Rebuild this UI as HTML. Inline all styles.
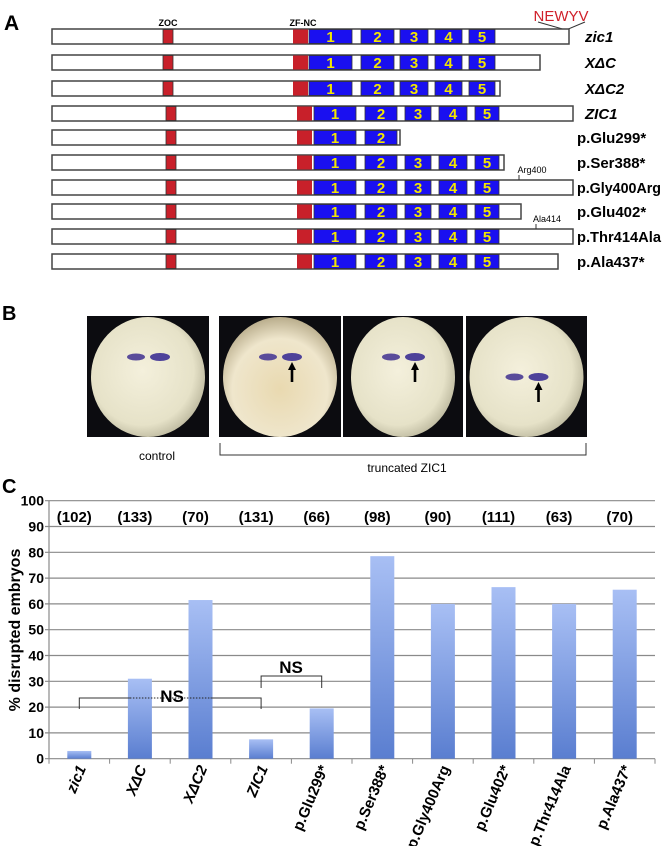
<!DOCTYPE html>
<html><head><meta charset="utf-8"><style>
html,body{margin:0;padding:0;background:#fff;}
svg{display:block;font-family:"Liberation Sans",Arial,sans-serif;}
</style></head><body>
<svg id="fig" width="662" height="846" viewBox="0 0 662 846" xmlns="http://www.w3.org/2000/svg">
<defs>
<linearGradient id="barg" x1="0" y1="0" x2="0" y2="1"><stop offset="0" stop-color="#a8bff4"/><stop offset="1" stop-color="#5a7ed0"/></linearGradient>
<radialGradient id="egg" cx="0.45" cy="0.45" r="0.6"><stop offset="0" stop-color="#f4f0dc"/><stop offset="0.75" stop-color="#e6e2c8"/><stop offset="1" stop-color="#b8b49a"/></radialGradient>
<radialGradient id="egg2" cx="0.5" cy="0.6" r="0.6"><stop offset="0" stop-color="#e9d9b0"/><stop offset="0.7" stop-color="#efe6cc"/><stop offset="1" stop-color="#b9ad8c"/></radialGradient>
</defs>
<g id="panelA">
<text x="4" y="30" font-size="21" font-weight="bold">A</text>
<text x="168" y="26" font-size="9" font-weight="bold" text-anchor="middle">ZOC</text>
<text x="303" y="26" font-size="9" font-weight="bold" text-anchor="middle">ZF-NC</text>
<text x="561" y="21" font-size="15" fill="#d0202a" text-anchor="middle">NEWYV</text>
<polyline points="538,22 566,30 585,22" fill="none" stroke="#333" stroke-width="1"/>
</g>
<g id="panelB">
<text x="2" y="320" font-size="20" font-weight="bold">B</text>
</g>
<g id="panelC">
<text x="2" y="493" font-size="20" font-weight="bold">C</text>
<text transform="translate(20,630) rotate(-90)" font-size="16" font-weight="bold" text-anchor="middle">% disrupted embryos</text>
</g>
</svg>
<script>
// ---- Panel C data ----
const categories = ["zic1","X\u0394C","X\u0394C2","ZIC1","p.Glu299*","p.Ser388*","p.Gly400Arg","p.Glu402*","p.Thr414Ala","p.Ala437*"];
const italicCats = [true,true,true,true,false,false,false,false,false,false];
const disrupted = [3,31,61.5,7.5,19.5,78.5,60,66.5,60,65.5];
const counts = ["(102)","(133)","(70)","(131)","(66)","(98)","(90)","(111)","(63)","(70)"];
const yTicks = [0,10,20,30,40,50,60,70,80,90,100];

// ---- Panel A data ----
const constructs = ["zic1","X\u0394C","X\u0394C2","ZIC1","p.Glu299*","p.Ser388*","p.Gly400Arg","p.Glu402*","p.Thr414Ala","p.Ala437*"];
const constructLengths = [569,540,500,573,400,504,573,521,573,558];
const constructDomains = [5,5,5,5,2,5,5,5,5,5];

const NS = "http://www.w3.org/2000/svg";
const svg = document.getElementById('fig');
function mk(tag, attrs, parent){const e=document.createElementNS(NS,tag);for(const k in attrs)e.setAttribute(k,attrs[k]);(parent||svg).appendChild(e);return e;}

// Panel A
const gA = document.getElementById('panelA');
const rowY = [29,55,81,106,130,155,180,204,229,254];
const frog = [[309,352],[361,394],[400,428],[435,462],[469,495]];
const hum = [[314,356],[365,397],[405,431],[439,467],[475,499]];
constructs.forEach((name,i)=>{
  const y=rowY[i], isFrog=i<3, dom=isFrog?frog:hum;
  const g=mk('g',{},gA);
  
  
  const r=mk('rect',{x:52,y:y,width:constructLengths[i]-52,height:15,fill:'#fff',stroke:'#444','stroke-width':1.5},g);
  
  
  const zx=isFrog?163:166;
  const z=mk('rect',{x:zx,y:y+0.5,width:10,height:14,fill:'#c8202a',stroke:'#333','stroke-width':0.8},g);
  
  
  const fx=isFrog?293:297;
  const f=mk('rect',{x:fx,y:y+0.5,width:15,height:14,fill:'#c8202a'},g);
  
  
  for(let d=0;d<constructDomains[i];d++){
    const b=mk('rect',{x:dom[d][0],y:y+0.5,width:dom[d][1]-dom[d][0],height:14,fill:'#1a10f0',stroke:'#333','stroke-width':0.8},g);
    
    
    const t=mk('text',{x:(dom[d][0]+dom[d][1])/2,y:y+13,'font-size':15,'font-weight':'bold',fill:'#f2e600','text-anchor':'middle'},g);
    t.textContent=String(d+1);
    
    
  }
  const attrs={x:i<4?585:577,y:y+13,'font-size':15,'font-style':i<4?'italic':'normal','font-weight':'bold'};
  if(i==6||i==8){attrs.textLength=84;attrs.lengthAdjust='spacingAndGlyphs';}
  const lab=mk('text',attrs,g);
  lab.textContent=name;
  
  
});
[[519,rowY[6],'Arg400',532],[536,rowY[8],'Ala414',547]].forEach(a=>{
  const l=mk('line',{x1:a[0],y1:a[1]-5,x2:a[0],y2:a[1],stroke:'#333'},gA);
  
  
  const t=mk('text',{x:a[3],y:a[1]-7,'font-size':9,'text-anchor':'middle'},gA);
  t.textContent=a[2];
  
  
});

// Panel B
const gB=document.getElementById('panelB');
const photos=[[87,122,'#egg',0,0],[219,122,'#egg2',1,1],[343,120,'#egg',2,1],[466,121,'#egg',3,1]];
photos.forEach((p,i)=>{
  const g=mk('g',{},gB);
  
  
  mk('rect',{x:p[0],y:316,width:p[1],height:121,fill:'#0c0c10'},g);
  const cx=p[0]+p[1]/2;
  mk('ellipse',{cx:cx,cy:377,rx:i==2?52:57,ry:60,fill:'url('+p[2]+')'},g);
  const dy=i==3?20:0;
  mk('ellipse',{cx:cx-12,cy:357+dy,rx:9,ry:3.5,fill:'#5a4c9a'},g);
  mk('ellipse',{cx:cx+12,cy:357+dy,rx:10,ry:4,fill:'#4e429a'},g);
  if(p[4]){
    const ax=cx+12, ay=362+dy;
    mk('path',{d:`M${ax-4} ${ay+8} L${ax} ${ay} L${ax+4} ${ay+8} Z M${ax-1.3} ${ay+7} h2.6 v13 h-2.6 Z`,fill:'#000'},g);
  }
});
const tc=mk('text',{x:157,y:460,'font-size':12,'text-anchor':'middle'},gB);
tc.textContent='control';


const br=mk('polyline',{points:'220,443 220,455 586,455 586,443',fill:'none',stroke:'#333','stroke-width':1},gB);


const tt=mk('text',{x:407,y:472,'font-size':12,'text-anchor':'middle'},gB);
tt.textContent='truncated ZIC1';



// Panel C chart
const gC=document.getElementById('panelC');
const x0=49,x1=655,yBase=758.7,yTop=500.7,vMax=100;
const bandW=(x1-x0)/categories.length;
const xs=i=>x0+bandW*(i+0.5);
const ys=v=>yBase-(v/vMax)*(yBase-yTop);
yTicks.forEach(t=>{
  const l=mk('line',{x1:x0-4,x2:x1,y1:ys(t),y2:ys(t),stroke:'#8a8a8a','stroke-width':1.2},gC);
  
  
  const tx=mk('text',{x:x0-5,y:ys(t)+5,'font-size':14,'font-weight':'bold','text-anchor':'end'},gC);
  tx.textContent=t;
  
  
});
const ax=mk('line',{x1:x0,x2:x0,y1:yTop,y2:yBase,stroke:'#8a8a8a','stroke-width':1.2},gC);


for(let i=0;i<=categories.length;i++){
  const tk=mk('line',{x1:x0+bandW*i,x2:x0+bandW*i,y1:yBase,y2:yBase+5,stroke:'#8a8a8a'},gC);
  
  
}
disrupted.forEach((v,i)=>{
  const b=mk('rect',{x:xs(i)-12,y:ys(v),width:24,height:yBase-ys(v),fill:'url(#barg)'},gC);
  
  
  const c=mk('text',{x:xs(i)-5,y:522,'font-size':15,'font-weight':'bold','text-anchor':'middle'},gC);
  c.textContent=counts[i];
  
  
  const lx=xs(i)+7, ly=768;
  const xl=mk('text',{x:lx,y:ly,'font-size':15,'font-weight':'bold','font-style':italicCats[i]?'italic':'normal','text-anchor':'end',transform:`rotate(-67 ${lx} ${ly})`},gC);
  xl.textContent=categories[i];
  
  
});
// NS brackets
const nb1=mk('g',{},gC);


mk('polyline',{points:`${xs(0)},709 ${xs(0)},698 ${xs(1)-10},698`,fill:'none',stroke:'#333','stroke-width':1},nb1);
mk('line',{x1:xs(1)-10,x2:xs(2)+10,y1:698,y2:698,stroke:'#222','stroke-width':1,'stroke-dasharray':'1.5,1.5'},nb1);
mk('polyline',{points:`${xs(2)+10},698 ${xs(3)},698 ${xs(3)},709`,fill:'none',stroke:'#333','stroke-width':1},nb1);
const n1=mk('text',{x:172,y:702,'font-size':17,'font-weight':'bold','text-anchor':'middle'},nb1);
n1.textContent='NS';
const nb2=mk('g',{},gC);


mk('polyline',{points:`${xs(3)},688 ${xs(3)},676 ${xs(4)},676 ${xs(4)},688`,fill:'none',stroke:'#333','stroke-width':1},nb2);
const n2=mk('text',{x:291,y:673,'font-size':17,'font-weight':'bold','text-anchor':'middle'},nb2);
n2.textContent='NS';
</script>
</body></html>
